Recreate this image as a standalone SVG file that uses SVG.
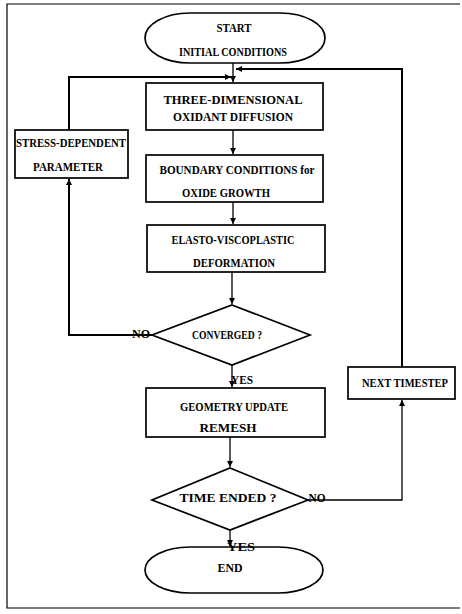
<svg xmlns="http://www.w3.org/2000/svg" width="462" height="614" viewBox="0 0 462 614">
<defs>
<marker id="arr" viewBox="0 0 10 10" refX="10" refY="5" markerWidth="6" markerHeight="6" orient="auto" markerUnits="userSpaceOnUse">
<path d="M0,0 L10,5 L0,10 z" fill="#000"/>
</marker>
<style>
.shape{fill:#fff;stroke:#000;stroke-width:1.7}
.frame{fill:none;stroke:#000;stroke-width:1.2}
.conn{fill:none;stroke:#000;stroke-width:1.3}
.thick{stroke-width:2}
text{font-family:"Liberation Serif","Times New Roman",serif;font-weight:bold;font-size:12px;fill:#000;text-anchor:middle;dominant-baseline:central}
</style>
</defs>
<rect width="462" height="614" fill="#fff"/>
<path class="frame" d="M460,4 H7 V608 H460"/>

<g id="connectors">
<path class="conn" d="M233,63 V82" marker-end="url(#arr)"/>
<path class="conn thick" d="M69,130 V77 H231" marker-end="url(#arr)"/>
<path class="conn" d="M233,130 V154" marker-end="url(#arr)"/>
<path class="conn" d="M233,202 V224" marker-end="url(#arr)"/>
<path class="conn" d="M232,272 V304" marker-end="url(#arr)"/>
<path class="conn thick" d="M152,335 H69 V179" marker-end="url(#arr)"/>
<path class="conn" d="M232,365 V387" marker-end="url(#arr)"/>
<path class="conn" d="M230,437 V467" marker-end="url(#arr)"/>
<path class="conn" d="M308,500 H402 V400" marker-end="url(#arr)"/>
<path class="conn thick" d="M402,367 V69 H236" marker-end="url(#arr)"/>
<path class="conn" d="M230,530 V546" marker-end="url(#arr)"/>
</g>

<g id="start">
<rect class="shape" x="145" y="13" width="180" height="50" rx="45" ry="25"/>
<text x="234" y="28" textLength="35" lengthAdjust="spacingAndGlyphs">START</text>
<text x="233" y="52" textLength="108" lengthAdjust="spacingAndGlyphs">INITIAL CONDITIONS</text>
</g>

<g id="diffusion">
<rect class="shape" x="146" y="83" width="177" height="47"/>
<text x="233" y="100" textLength="139" lengthAdjust="spacingAndGlyphs">THREE-DIMENSIONAL</text>
<text x="233" y="117" textLength="120" lengthAdjust="spacingAndGlyphs">OXIDANT DIFFUSION</text>
</g>

<g id="boundary">
<rect class="shape" x="146" y="155" width="177" height="47"/>
<text x="237" y="170" textLength="155" lengthAdjust="spacingAndGlyphs">BOUNDARY CONDITIONS  for</text>
<text x="226" y="193" textLength="88" lengthAdjust="spacingAndGlyphs">OXIDE GROWTH</text>
</g>

<g id="deformation">
<rect class="shape" x="147" y="225" width="178" height="47"/>
<text x="233" y="240" textLength="123" lengthAdjust="spacingAndGlyphs">ELASTO-VISCOPLASTIC</text>
<text x="234" y="263" textLength="82" lengthAdjust="spacingAndGlyphs">DEFORMATION</text>
</g>

<g id="stress">
<rect class="shape" x="15" y="130" width="113" height="48"/>
<text x="71" y="143" textLength="110" lengthAdjust="spacingAndGlyphs">STRESS-DEPENDENT</text>
<text x="68" y="167" textLength="70" lengthAdjust="spacingAndGlyphs">PARAMETER</text>
</g>

<g id="converged">
<polygon class="shape" points="232,305 310,335 232,365 152,335"/>
<text x="227" y="335" textLength="70" lengthAdjust="spacingAndGlyphs">CONVERGED  ?</text>
<text x="141" y="334" textLength="18" lengthAdjust="spacingAndGlyphs">NO</text>
<text x="242" y="380" textLength="22" lengthAdjust="spacingAndGlyphs">YES</text>
</g>

<g id="geometry">
<rect class="shape" x="146" y="388" width="179" height="49"/>
<text x="234" y="407" textLength="108" lengthAdjust="spacingAndGlyphs">GEOMETRY UPDATE</text>
<text x="228" y="428" textLength="57" lengthAdjust="spacingAndGlyphs">REMESH</text>
</g>

<g id="nexttimestep">
<rect class="shape" x="348" y="367" width="107" height="32"/>
<text x="405" y="383" textLength="86" lengthAdjust="spacingAndGlyphs">NEXT TIMESTEP</text>
</g>

<g id="timeended">
<polygon class="shape" points="230,468 308,500 230,530 152,500"/>
<text x="228" y="498" textLength="97" lengthAdjust="spacingAndGlyphs">TIME ENDED ?</text>
<text x="317" y="498" textLength="17" lengthAdjust="spacingAndGlyphs">NO</text>
</g>

<g id="end">
<rect class="shape" x="145" y="547" width="178" height="46" rx="45" ry="23"/>
<text x="230" y="568" textLength="25" lengthAdjust="spacingAndGlyphs">END</text>
<text x="241" y="547" textLength="28" lengthAdjust="spacingAndGlyphs">YES</text>
</g>
</svg>
